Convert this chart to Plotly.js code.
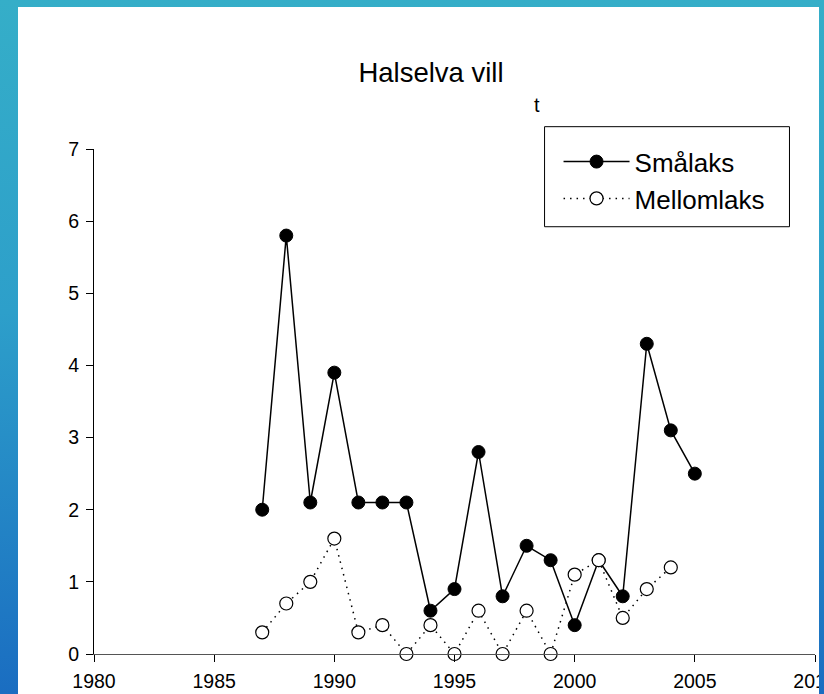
<!DOCTYPE html>
<html>
<head>
<meta charset="utf-8">
<script src="https://cdn.plot.ly/plotly-3.0.1.min.js"></script>
<style>
  html, body { margin: 0; padding: 0; width: 824px; height: 694px; overflow: hidden;
    background: linear-gradient(180deg, #35aec8 0%, #2d9fca 45%, #1a6dc1 100%); }
  #chart { position: absolute; left: 18px; top: 7px; width: 801px; height: 687px; background: #fff; }
</style>
</head>
<body>
<div id="chart"></div>
<script>
const years = [1987, 1988, 1989, 1990, 1991, 1992, 1993, 1994, 1995, 1996,
               1997, 1998, 1999, 2000, 2001, 2002, 2003, 2004, 2005];
const smalaks = [2.0, 5.8, 2.1, 3.9, 2.1, 2.1, 2.1, 0.6, 0.9, 2.8,
                 0.8, 1.5, 1.3, 0.4, 1.3, 0.8, 4.3, 3.1, 2.5];
const mellomlaks = [0.3, 0.7, 1.0, 1.6, 0.3, 0.4, 0.0, 0.4, 0.0, 0.6,
                    0.0, 0.6, 0.0, 1.1, 1.3, 0.5, 0.9, 1.2, null];
const xTicks = [1980, 1985, 1990, 1995, 2000, 2005, 2010];
const yTicks = [0, 1, 2, 3, 4, 5, 6, 7];
const seriesNames = ['Smålaks', 'Mellomlaks'];
const chartTitle = 'Halselva vill';
const unitLabel = 't';

const FONT = 'Arial, "Liberation Sans", sans-serif';

const traces = [
  {
    x: years, y: smalaks, name: seriesNames[0],
    type: 'scatter', mode: 'lines+markers', cliponaxis: false,
    line: { color: '#000', width: 1.5 },
    marker: { symbol: 'circle', size: 13, color: '#000', line: { color: '#000', width: 1 } }
  },
  {
    x: years, y: mellomlaks, name: seriesNames[1],
    type: 'scatter', mode: 'lines+markers', cliponaxis: false,
    line: { color: '#000', width: 1.5, dash: '1.5px,5px' },
    marker: { symbol: 'circle', size: 13, color: '#fff', line: { color: '#000', width: 1.2 } }
  }
];

const layout = {
  width: 801, height: 687,
  paper_bgcolor: '#fff', plot_bgcolor: '#fff',
  margin: { l: 76.3, r: 3.5, t: 142.3, b: 40, pad: 0 },
  font: { family: FONT, color: '#000' },
  title: {
    text: chartTitle, font: { family: FONT, size: 27.5, color: '#000' },
    x: 0.5156, xref: 'container', xanchor: 'center',
    y: 0.9047, yref: 'container', yanchor: 'middle'
  },
  xaxis: {
    range: [1980, 2010], tickmode: 'array', tickvals: xTicks, ticktext: xTicks.map(String),
    showgrid: false, zeroline: false, showline: true, linecolor: '#555', linewidth: 1,
    ticks: 'outside', ticklen: 7, tickwidth: 1, tickcolor: '#000',
    ticklabeloverflow: 'allow', ticklabelstandoff: 3,
    tickfont: { family: FONT, size: 19.5, color: '#000' }
  },
  yaxis: {
    range: [0, 7], tickmode: 'array', tickvals: yTicks, ticktext: yTicks.map(String),
    showgrid: false, zeroline: false, showline: true, linecolor: '#000', linewidth: 1,
    ticks: 'outside', ticklen: 7, tickwidth: 1, tickcolor: '#000',
    ticklabelstandoff: 3,
    tickfont: { family: FONT, size: 19.5, color: '#000' }
  },
  showlegend: true,
  legend: {
    x: 0.6443, y: 1.0214, xanchor: 'left', yanchor: 'top',
    bgcolor: 'rgba(0,0,0,0)', borderwidth: 0,
    itemwidth: 66, itemsizing: 'trace',
    font: { family: FONT, size: 26, color: '#000' }
  },
  shapes: [
    { type: 'rect', xref: 'paper', yref: 'paper', layer: 'above',
      x0: 0.6249, x1: 0.9646, y0: 0.8461, y1: 1.0442,
      line: { color: '#000', width: 1 }, fillcolor: '#fff' }
  ],
  annotations: [
    { text: unitLabel, xref: 'paper', yref: 'paper', x: 0.614, y: 1.0878,
      xanchor: 'center', yanchor: 'middle', showarrow: false,
      font: { family: FONT, size: 20, color: '#000' } }
  ]
};

Plotly.newPlot('chart', traces, layout, { displayModeBar: false, staticPlot: true });
</script>
</body>
</html>
